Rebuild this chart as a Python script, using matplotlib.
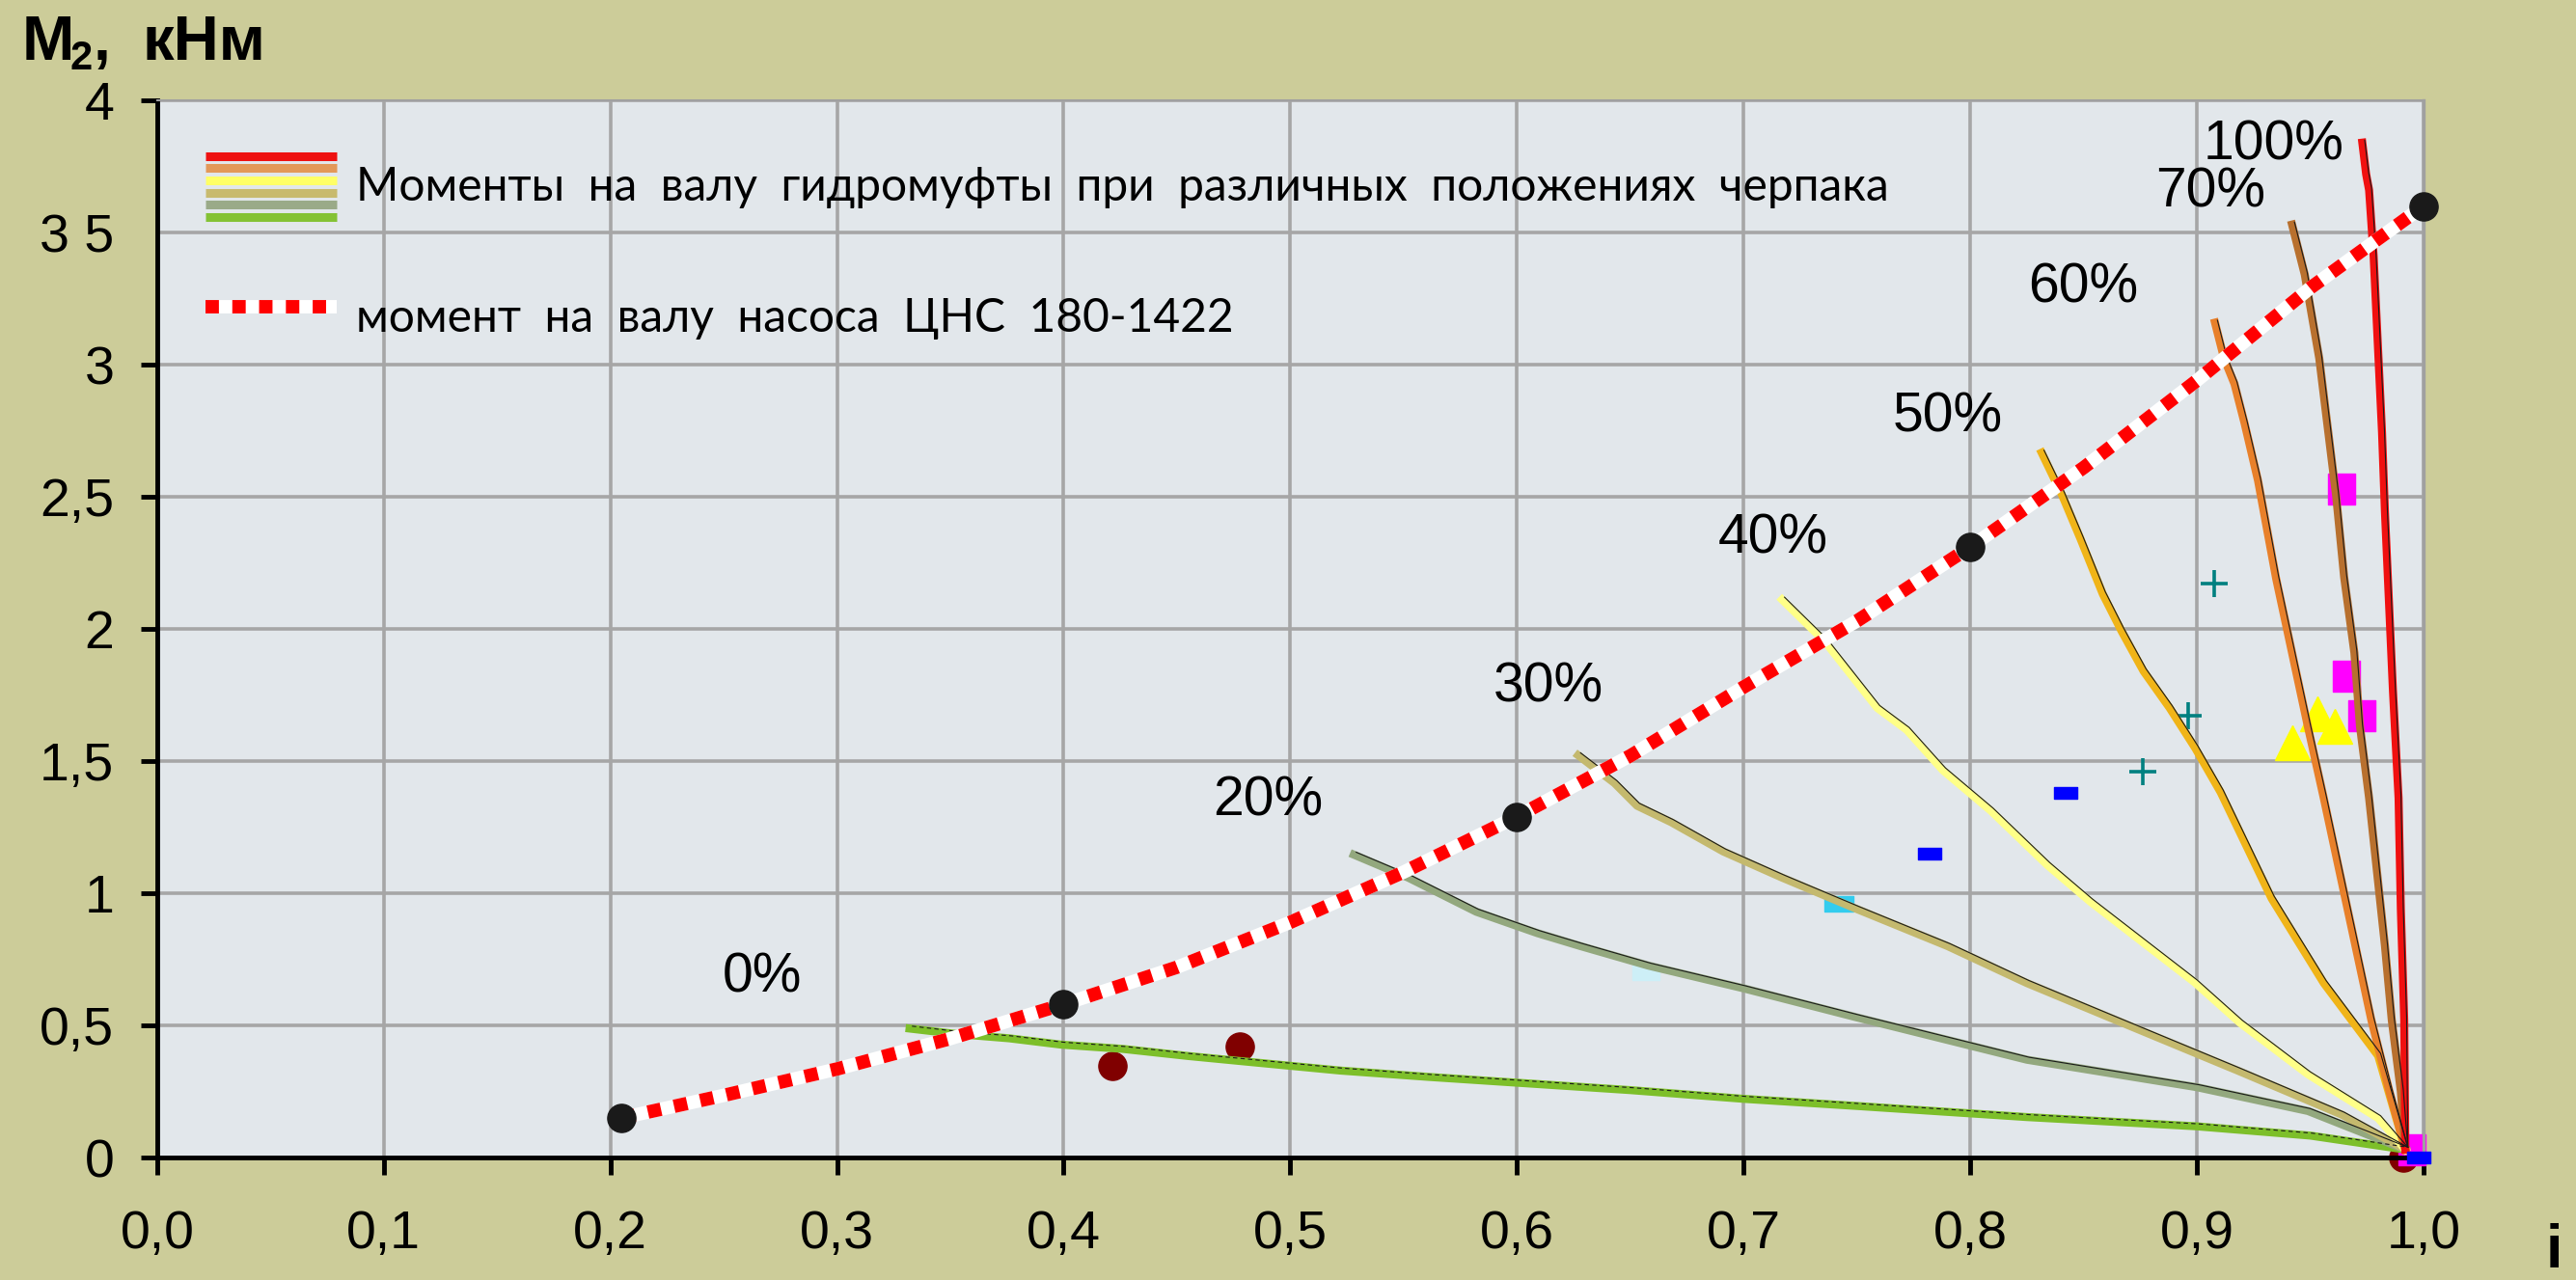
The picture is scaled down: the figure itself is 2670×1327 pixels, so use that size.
import matplotlib
matplotlib.use('Agg')
import matplotlib.pyplot as plt
import matplotlib.transforms as mtransforms
from matplotlib.legend_handler import HandlerBase, HandlerTuple
from matplotlib.lines import Line2D
from matplotlib.path import Path

# --- цвета ---
BG = '#CCCC99'
PLOT_BG = '#E2E7EB'
GRID = '#A6A6A6'

# --- момент на валу насоса ЦНС 180-1422 ---
pump_i = [0.205, 0.25, 0.30, 0.35, 0.40, 0.45, 0.50, 0.55, 0.60, 0.65,
          0.70, 0.75, 0.80, 0.85, 0.90, 0.95, 1.00]
pump_m = [0.15, 0.235, 0.335, 0.45, 0.58, 0.72, 0.89, 1.08, 1.29, 1.52,
          1.78, 2.03, 2.31, 2.61, 2.94, 3.29, 3.60]
pump_dots_i = [0.205, 0.40, 0.60, 0.80, 1.00]
pump_dots_m = [0.15, 0.58, 1.29, 2.31, 3.60]

# --- моменты гидромуфты при положениях черпака ---
m0_i = [0.332, 0.353, 0.376, 0.399, 0.426, 0.455, 0.484, 0.522, 0.561, 0.593,
        0.65, 0.70, 0.75, 0.825, 0.90, 0.95, 0.992]
m0_m = [0.488, 0.467, 0.451, 0.427, 0.411, 0.384, 0.36, 0.329, 0.305, 0.287,
        0.255, 0.222, 0.195, 0.153, 0.118, 0.083, 0.03]

m20_i = [0.528, 0.552, 0.582, 0.609, 0.628, 0.658, 0.70, 0.75, 0.825, 0.90, 0.949, 0.992]
m20_m = [1.146, 1.059, 0.930, 0.849, 0.80, 0.726, 0.64, 0.53, 0.37, 0.266, 0.176, 0.03]

m30_i = [0.627, 0.643, 0.653, 0.668, 0.691, 0.717, 0.75, 0.79, 0.825, 0.871, 0.918, 0.964, 0.992]
m30_m = [1.522, 1.417, 1.331, 1.269, 1.158, 1.059, 0.94, 0.80, 0.66, 0.496, 0.329, 0.162, 0.03]

m40_i = [0.717, 0.736, 0.759, 0.772, 0.788, 0.809, 0.834, 0.853, 0.899, 0.919, 0.949, 0.980, 0.992]
m40_m = [2.111, 1.951, 1.701, 1.618, 1.465, 1.313, 1.107, 0.968, 0.663, 0.51, 0.315, 0.149, 0.03]

m50_i = [0.8315, 0.8405, 0.8487, 0.8585, 0.8667, 0.8765, 0.888, 0.8993, 0.9105,
         0.933, 0.956, 0.980, 0.992]
m50_m = [2.667, 2.507, 2.340, 2.132, 1.993, 1.840, 1.701, 1.549, 1.382,
         0.98, 0.66, 0.385, 0.03]

m60_i = [0.908, 0.912, 0.9166, 0.921, 0.927, 0.935, 0.942, 0.949, 0.956, 0.963,
         0.970, 0.977, 0.985, 0.992]
m60_m = [3.159, 3.024, 2.927, 2.78, 2.561, 2.19, 1.91, 1.63, 1.36, 1.08,
         0.80, 0.52, 0.25, 0.03]

m70_i = [0.942, 0.9476, 0.954, 0.958, 0.9615, 0.965, 0.9695, 0.972, 0.976, 0.9795,
         0.983, 0.986, 0.990, 0.992]
m70_m = [3.53, 3.341, 3.024, 2.744, 2.5, 2.195, 1.91, 1.63, 1.36, 1.08,
         0.80, 0.52, 0.25, 0.03]

m100_i = [0.973, 0.9747, 0.976, 0.978, 0.980, 0.9817, 0.983, 0.9865, 0.989, 0.990, 0.9915, 0.992]
m100_m = [3.84, 3.72, 3.66, 3.41, 3.05, 2.744, 2.44, 1.77, 1.36, 0.94, 0.52, 0.03]

fan_names = ['0%', '20%', '30%', '40%', '50%', '60%', '70%', '100%']
fan_i = [m0_i, m20_i, m30_i, m40_i, m50_i, m60_i, m70_i, m100_i]
fan_m = [m0_m, m20_m, m30_m, m40_m, m50_m, m60_m, m70_m, m100_m]
fan_colors = ['#7DBF2A', '#93A87E', '#C4B96E', '#FFFF88', '#F0B418',
              '#E8802A', '#B8702E', '#F01010']
# позиции подписей
label_i = [0.267, 0.490, 0.614, 0.713, 0.790, 0.850, 0.906, 0.934]
label_m = [0.68, 1.35, 1.78, 2.34, 2.80, 3.29, 3.65, 3.83]

# --- экспериментальные точки ---
maroon_i = [0.4217, 0.4775, 0.991]
maroon_m = [0.348, 0.418, 0.0]
magenta_i = [0.964, 0.966, 0.9726, 0.995]
magenta_m = [2.53, 1.82, 1.67, 0.03]
tri_i = [0.942, 0.953, 0.961]
tri_m = [1.57, 1.68, 1.63]
plus_i = [0.876, 0.896, 0.9075]
plus_m = [1.46, 1.67, 2.17]
blue_i = [0.782, 0.842, 0.998]
blue_m = [1.15, 1.38, 0.0]
cyan_i = [0.742, 0.657]
cyan_m = [0.96, 0.70]

xticks = [0.0, 0.1, 0.2, 0.3, 0.4, 0.5, 0.6, 0.7, 0.8, 0.9, 1.0]
xlabels = ['0,0', '0,1', '0,2', '0,3', '0,4', '0,5', '0,6', '0,7', '0,8', '0,9', '1,0']
yticks = [0, 0.5, 1, 1.5, 2, 2.5, 3, 3.5, 4]
ylabels = ['0', '0,5', '1', '1,5', '2', '2,5', '3', '3 5', '4']

legend_colors = ['#EE1111', '#E39858', '#FFFF66', '#C8BA6E', '#9AAA88', '#84C234']
legend_text = ['Моменты  на  валу  гидромуфты  при  различных  положениях  черпака',
               'момент  на  валу  насоса  ЦНС  180-1422']

plt.rcParams['font.family'] = ['Liberation Sans', 'DejaVu Sans']


class StripesHandler(HandlerBase):
    def __init__(self, colors, lw):
        super().__init__()
        self.colors = colors
        self.lw = lw

    def create_artists(self, legend, orig_handle, xdescent, ydescent,
                       width, height, fontsize, trans):
        n = len(self.colors)
        arts = []
        for k, c in enumerate(self.colors):
            yy = -ydescent + height * (1 - (k + 0.5) / n)
            ln = Line2D([-xdescent, -xdescent + width], [yy, yy], color=c,
                        lw=self.lw, solid_capstyle='butt')
            ln.set_transform(trans)
            arts.append(ln)
        return arts


fig = plt.figure(figsize=(26.7, 13.27), dpi=100, facecolor=BG)
ax = fig.add_axes([0.0610, 0.0957, 0.8798, 0.8259])
ax.set_facecolor(PLOT_BG)
ax.set_xlim(0, 1.0)
ax.set_ylim(0, 4)
ax.set_axisbelow(True)
ax.grid(True, color=GRID, lw=2.6)

# тонкая тёмная кромка со сдвигом
edge_tr = mtransforms.offset_copy(ax.transData, fig=fig, x=1.8, y=1.8, units='points')

fan_lines = []
for k in range(len(fan_names)):
    ln, = ax.plot(fan_i[k], fan_m[k], color=fan_colors[k], lw=6, zorder=3,
                  solid_joinstyle='round')
    fan_lines.append(ln)
    ls = (0, (4, 3)) if k == 0 else '-'
    ax.plot(fan_i[k], fan_m[k], color='#1A1A1A', lw=0.8, ls=ls, zorder=3.1,
            transform=edge_tr)
    ax.text(label_i[k], label_m[k], fan_names[k], fontsize=41, ha='center',
            va='center', zorder=6)

# экспериментальные точки
rect_wide = Path([(-1, -0.55), (1, -0.55), (1, 0.55), (-1, 0.55), (-1, -0.55)],
                 [Path.MOVETO, Path.LINETO, Path.LINETO, Path.LINETO, Path.CLOSEPOLY])
rect_tall = Path([(-0.9, -1), (0.9, -1), (0.9, 1), (-0.9, 1), (-0.9, -1)],
                 [Path.MOVETO, Path.LINETO, Path.LINETO, Path.LINETO, Path.CLOSEPOLY])
ax.plot(maroon_i, maroon_m, ls='none', marker='o', ms=21, color='#800000', zorder=2.5,
        clip_on=False)
ax.plot(magenta_i, magenta_m, ls='none', marker=rect_tall, ms=23, color='#FF00FF',
        zorder=2.5, clip_on=False)
ax.plot(tri_i, tri_m, ls='none', marker='^', ms=26, color='#FFFF00', zorder=2.5)
ax.plot(plus_i, plus_m, ls='none', marker='+', ms=20, mew=2.6, color='#008080', zorder=2.5)
ax.plot(cyan_i[:1], cyan_m[:1], ls='none', marker=rect_wide, ms=22, color='#33CCEE',
        zorder=2.5)
ax.plot(cyan_i[1:], cyan_m[1:], ls='none', marker=rect_wide, ms=20, color='#CDEFF7',
        zorder=2.5)
ax.plot(blue_i, blue_m, ls='none', marker=rect_wide, ms=17, color='#0000FF', zorder=7,
        clip_on=False)

# насос
under, = ax.plot(pump_i, pump_m, color='white', lw=10, zorder=4, solid_capstyle='butt')
dotted, = ax.plot(pump_i, pump_m, color='#FF0000', lw=10, dashes=(1, 1), zorder=4.1)
ax.plot(pump_dots_i, pump_dots_m, ls='none', marker='o', ms=21, color='#1A1A1A',
        zorder=5, clip_on=False)

# оси
for s in ['left', 'bottom']:
    ax.spines[s].set_color('black')
    ax.spines[s].set_linewidth(3.5)
ax.spines['top'].set_color('#A0A0A0')
ax.spines['top'].set_linewidth(1.5)
ax.spines['right'].set_color('#A0A0A0')
ax.spines['right'].set_linewidth(2.4)
ax.set_xticks(xticks)
ax.set_xticklabels(xlabels)
ax.set_yticks(yticks)
ax.set_yticklabels(ylabels)
ax.tick_params(axis='x', length=13, width=3.5, pad=26, labelsize=40, direction='out')
ax.tick_params(axis='y', length=12, width=3.5, pad=20, labelsize=40, direction='out')
ax.yaxis.get_major_ticks()[7].tick1line.set_visible(False)

# подписи осей
H = 1327.0
W = 2670.0
fig.text(23 / W, 1 - 62 / H, 'M', fontsize=47, fontweight='bold', va='baseline', ha='left')
fig.text(73 / W, 1 - 72 / H, '2', fontsize=30, fontweight='bold', va='baseline', ha='left')
fig.text(97 / W, 1 - 62 / H, ',', fontsize=46, fontweight='bold', va='baseline', ha='left')
fig.text(148 / W, 1 - 62 / H, 'кНм', fontsize=47, fontweight='bold', va='baseline', ha='left')
fig.text(0.9914, 0.0097, 'i', fontsize=45, fontweight='bold', va='baseline', ha='center')

# легенда
stripe_handle = tuple(fan_lines)
leg = ax.legend([stripe_handle, (under, dotted)], legend_text,
                handler_map={stripe_handle: StripesHandler(legend_colors, 6.5),
                             (under, dotted): HandlerTuple(ndivide=1)},
                loc='upper left', bbox_to_anchor=(0.0213, 0.953), frameon=False,
                borderpad=0, borderaxespad=0, handlelength=2.85,
                handleheight=2.05, handletextpad=0.4, labelspacing=1.25,
                prop={'family': ['Lato', 'DejaVu Sans'], 'size': 34.5})
leg.set_zorder(8)

fig.savefig('out.png', dpi=100, facecolor=BG)
